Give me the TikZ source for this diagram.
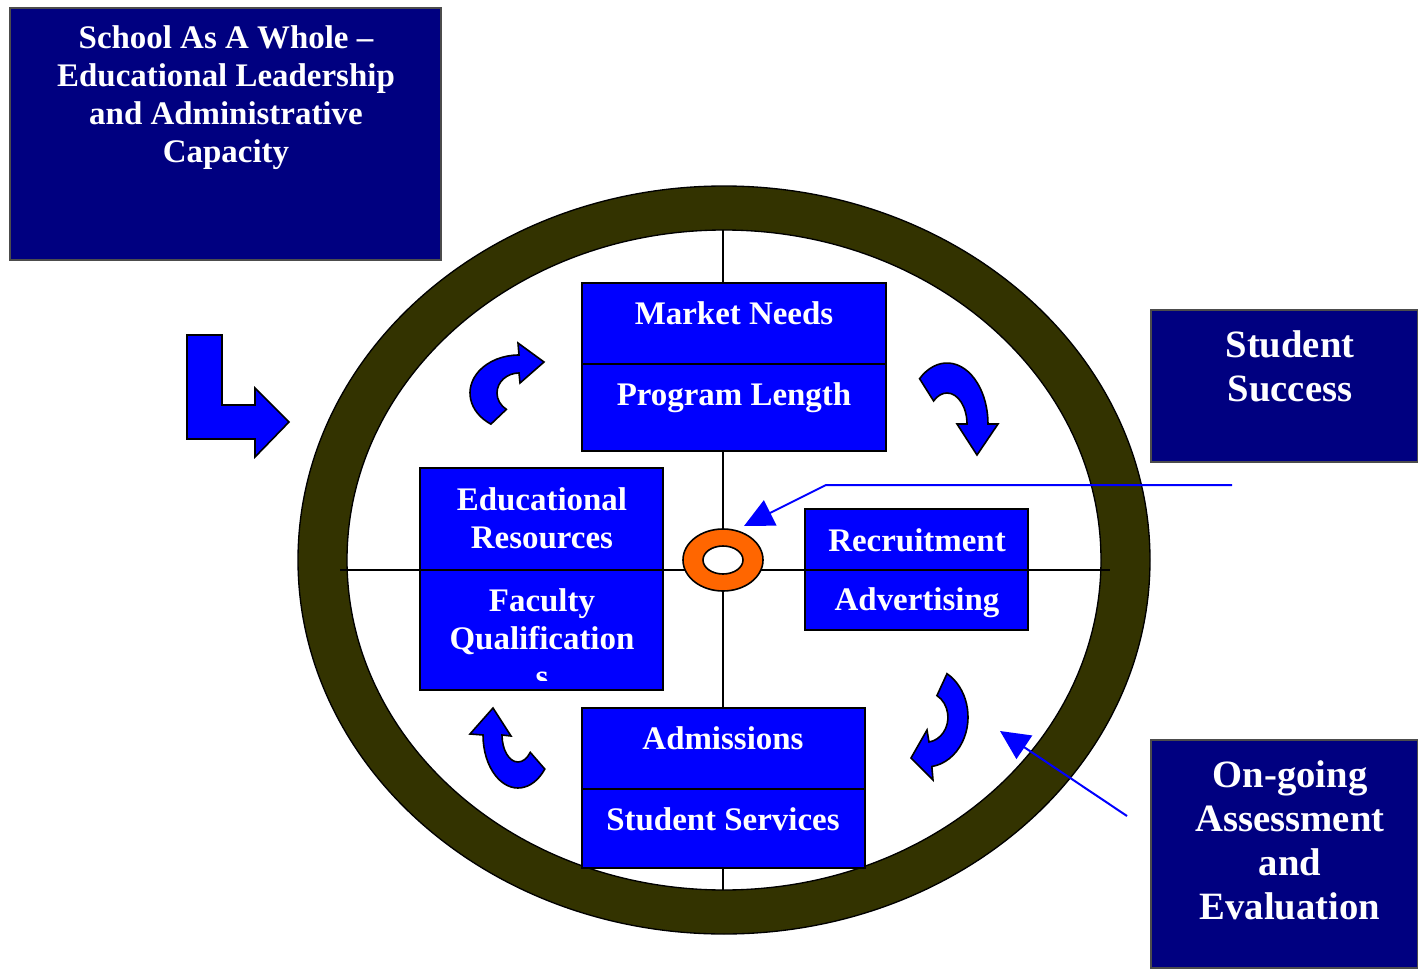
\documentclass[tikz,border=0pt]{standalone}
\usepackage{fontspec}
\setmainfont{Liberation Serif}
\usetikzlibrary{arrows.meta}

\definecolor{panelnavy}{HTML}{000080}
\definecolor{cellblue}{HTML}{0000FF}
\definecolor{rimolive}{HTML}{333300}
\definecolor{hubor}{HTML}{FF6600}

\begin{document}
\begin{tikzpicture}[x=0.75pt,y=-0.75pt,
  panelbox/.style={fill=panelnavy,draw=black!70,line width=0.8pt},
  paneltext/.style={text=white,align=center,inner sep=0pt,font=\bfseries\fontsize{24.7}{28.5}\selectfont},
  bigtext/.style={paneltext,font=\bfseries\fontsize{29}{33}\selectfont},
  cellbox/.style={fill=cellblue,draw=black,line width=1.5pt},
  celltext/.style={text=white,align=center,inner sep=0pt,font=\bfseries\fontsize{24.7}{28.5}\selectfont},
  turn/.style={fill=cellblue,draw=black,line width=1.2pt},
  pointer/.style={draw=cellblue,line width=1.5pt,-{Triangle[length=22pt,width=21pt]}}]
\useasboundingbox (0,0) rectangle (1418,970);

% side panels
\draw[panelbox] (10,8) rectangle (441,260);
\node[paneltext] (whole) at (226,98) {School As A Whole –\\Educational Leadership\\and Administrative\\Capacity};
\draw[panelbox] (1151,310) rectangle (1418,462);
\node[bigtext] (success) at (1290,366) {Student\\Success};
\draw[panelbox] (1151,740) rectangle (1418,968);
\node[bigtext] (assess) at (1290,840) {On-going\\Assessment\\and\\Evaluation};

% rim and cross
\draw[fill=rimolive,even odd rule,line width=1pt] (724,560) ellipse [x radius=426,y radius=374]
  (724,560) ellipse [x radius=377,y radius=330];
\draw[line width=1pt] (723,230) -- (723,890);
\draw[line width=1pt] (340,570) -- (1110,570);

% the four blocks
\draw[cellbox] (582,283) rectangle (886,364);
\draw[cellbox] (582,364) rectangle (886,451);
\node[celltext] (market) at (734,313) {Market Needs};
\node[celltext] (length) at (734,398) {Program Length};

\draw[cellbox] (420,468) rectangle (663,570);
\draw[cellbox] (420,570) rectangle (663,690);
\node[celltext] (resources) at (542,518) {Educational\\Resources};
\begin{scope}
\clip (421,571) rectangle (662,680);
\node[celltext] (faculty) at (542,638) {Faculty\\Qualification\\s};
\end{scope}

\draw[cellbox] (805,509) rectangle (1028,570);
\draw[cellbox] (805,570) rectangle (1028,630);
\node[celltext] (recruit) at (917,540) {Recruitment};
\node[celltext] (advert) at (917,603) {Advertising};

\draw[cellbox] (582,708) rectangle (865,789);
\draw[cellbox] (582,789) rectangle (865,868);
\node[celltext] (admit) at (723,738) {Admissions};
\node[celltext] (services) at (723,819) {Student Services};

% hub
\draw[fill=hubor,line width=1.2pt] (723,560) ellipse [x radius=40,y radius=31];
\draw[fill=white,line width=1.2pt] (723,560) ellipse [x radius=20,y radius=14];

% bent arrow on the left
\draw[turn] (187,335) -- (222,335) -- (222,405) -- (255,405) -- (255,388) -- (289,422)
  -- (255,457) -- (255,439) -- (187,439) -- cycle;

% turning arrows round the cycle
\draw[turn] (519,393) ++(125:49 and 38) arc[start angle=125,end angle=270,x radius=49,y radius=38]
  -- (518,343) -- (544,362) -- (520,383) -- (519,373)
  arc[start angle=270,end angle=125,x radius=22,y radius=20] -- cycle;
\draw[turn] (947,424) ++(228:41 and 61) arc[start angle=228,end angle=360,x radius=41,y radius=61]
  -- (998,424) -- (977,455) -- (957,424) -- (967,424)
  arc[start angle=360,end angle=228,x radius=20,y radius=31] -- cycle;
\draw[turn] (926,717) ++(-60:42 and 50) arc[start angle=-60,end angle=82,x radius=42,y radius=50]
  -- (933,780) -- (911,758) -- (927,730) -- (929,742)
  arc[start angle=82,end angle=-60,x radius=22,y radius=25] -- cycle;
\draw[turn] (518,735) ++(40:35 and 53) arc[start angle=40,end angle=180,x radius=35,y radius=53]
  -- (470,734) -- (493,708) -- (511,736) -- (502,735)
  arc[start angle=180,end angle=40,x radius=16,y radius=27] -- cycle;

% pointers
\coordinate (hubtip) at (744,526);
\coordinate (turntip) at (1000,731);
\draw[pointer] (1232,485) -- (826,485) -- (hubtip);
\draw[pointer] (1127,816) -- (turntip);
\end{tikzpicture}
\end{document}
